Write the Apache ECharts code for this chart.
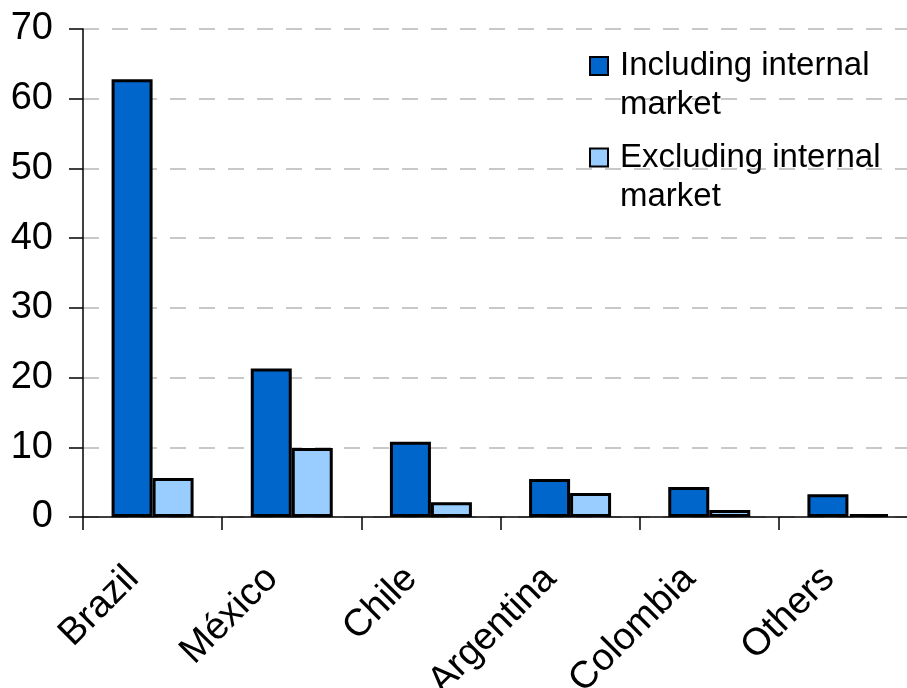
<!DOCTYPE html>
<html>
<head>
<meta charset="utf-8">
<script src="https://cdn.jsdelivr.net/npm/echarts@6/dist/echarts.min.js"></script>
<style>
html,body{margin:0;padding:0;background:#fff;}
#chart{width:907px;height:688px;}
</style>
</head>
<body>
<div id="chart"></div>
<script>
var categories = ['Brazil', 'México', 'Chile', 'Argentina', 'Colombia', 'Others'];
var seriesNames = ['Including internal\nmarket', 'Excluding internal\nmarket'];
var including = [62.8, 21.3, 10.8, 5.45, 4.3, 3.25];
var excluding = [5.6, 9.9, 2.1, 3.45, 1.0, 0.4];
var yTicks = [0, 10, 20, 30, 40, 50, 60, 70];

var chart = echarts.init(document.getElementById('chart'), null, {renderer: 'canvas'});
var font = 'Liberation Sans, Arial, sans-serif';
var legendText = {
  fontFamily: font, fontSize: 33, color: '#000', lineHeight: 39,
  padding: [0, 0, 0, 7]
};
function legendFormatter(name) { return ' \n' + name; }
var option = {
  backgroundColor: '#fff',
  animation: false,
  grid: {left: 83, top: 29, width: 835, bottom: 171, containLabel: false, outerBoundsMode: 'none'},
  legend: [
    {data: [seriesNames[0]], left: 589, top: 7.5, padding: 0, orient: 'vertical',
     itemWidth: 18, itemHeight: 18, icon: 'rect', textStyle: legendText,
     formatter: legendFormatter, selectedMode: false},
    {data: [seriesNames[1]], left: 589, top: 99, padding: 0, orient: 'vertical',
     itemWidth: 18, itemHeight: 18, icon: 'rect', textStyle: legendText,
     formatter: legendFormatter, selectedMode: false}
  ],
  xAxis: {
    type: 'category',
    data: categories,
    axisLine: {lineStyle: {color: '#000', width: 1.5}},
    axisTick: {show: true, length: 13, lineStyle: {color: '#000', width: 1.5}},
    axisLabel: {rotate: 45, margin: 36, fontFamily: font, fontSize: 38, color: '#000',
      padding: [0, 28, 0, 0], interval: 0}
  },
  yAxis: {
    type: 'value',
    min: yTicks[0], max: yTicks[yTicks.length - 1], interval: 10,
    axisLine: {show: true, lineStyle: {color: '#000', width: 1.5}},
    axisTick: {show: true, length: 14, lineStyle: {color: '#000', width: 1.5}},
    axisLabel: {margin: 30, fontFamily: font, fontSize: 38, color: '#000'},
    splitLine: {show: true, lineStyle: {color: '#c8c8c8', width: 2, type: [16, 13]}}
  },
  series: [
    {name: seriesNames[0], type: 'bar', data: including, barWidth: 41, barGap: '0%',
     itemStyle: {color: '#0066cc', borderColor: '#000', borderWidth: 3}},
    {name: seriesNames[1], type: 'bar', data: excluding, barWidth: 41, barGap: '0%',
     itemStyle: {color: '#99ccff', borderColor: '#000', borderWidth: 3}}
  ]
};
chart.setOption(option);
</script>
</body>
</html>
